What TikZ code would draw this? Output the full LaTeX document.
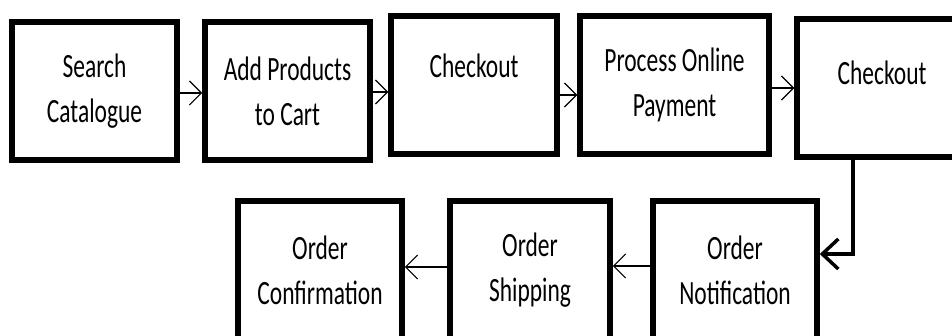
\documentclass[tikz,border=0pt]{standalone}
\usepackage{fontspec}
\setmainfont{Carlito}[FakeStretch=0.69]
\usetikzlibrary{arrows.meta}
\tikzstyle{stepbox} = [rectangle, draw=black, line width=5.5pt, minimum height=138pt, text centered, align=center, font=\fontsize{34}{45}\selectfont]
\tikzstyle{arrow} = [line width=1.2pt, -{Straight Barb[length=12pt,width=24pt]}]
\tikzstyle{bigarrow} = [line width=3.5pt, -{Straight Barb[length=16pt,width=30pt]}]

\begin{document}
\begin{tikzpicture}[x=1pt, y=-1pt]
        \useasboundingbox (0,0) rectangle (952,336);
        % top row
        \node (search) [stepbox, minimum width=165pt] at (94.5,91) {Search\\Catalogue};
        \node (cart) [stepbox, minimum width=165pt] at (287.5,91) {Add Products\\to Cart};
        \node (checkout) [stepbox, minimum width=166pt] at (474,85) {Checkout\\[-6pt]\mbox{}};
        \node (payment) [stepbox, minimum width=189pt] at (674.5,85) {Process Online\\Payment};
        \node (checkoutTwo) [stepbox, minimum width=170pt] at (882,88) {Checkout\\[-14pt]\mbox{}};
        % bottom row
        \node (notification) [stepbox, minimum width=164pt] at (735,270) {Order\\Notification};
        \node (shipping) [stepbox, minimum width=160pt] at (530,270) {Order\\Shipping};
        \node (confirmation) [stepbox, minimum width=164pt] at (320,270) {Order\\Confirmation};

        \draw [arrow] ([yshift=-2pt]search.east) -- ([yshift=-2pt]search.east -| cart.west);
        \draw [arrow] ([yshift=-1pt]cart.east) -- ([yshift=-1pt]cart.east -| checkout.west);
        \draw [arrow] ([yshift=-10pt]checkout.east) -- ([yshift=-10pt]checkout.east -| payment.west);
        \draw [arrow] ([yshift=-3pt]payment.east) -- ([yshift=-3pt]payment.east -| checkoutTwo.west);
        \draw [bigarrow] ([xshift=-29pt]checkoutTwo.south) |- ([yshift=16pt]notification.east);
        \draw [arrow] ([yshift=4pt]notification.west) -- ([yshift=4pt]notification.west -| shipping.east);
        \draw [arrow] ([yshift=3pt]shipping.west) -- ([yshift=3pt]shipping.west -| confirmation.east);
\end{tikzpicture}
\end{document}
